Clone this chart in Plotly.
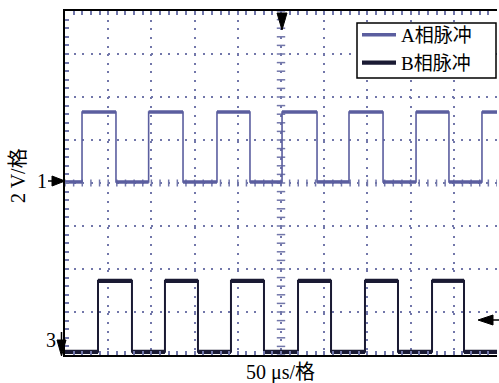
import numpy as np
import plotly.graph_objects as go

# ---- data (time in µs, voltage in V) ----
a_edges_us = [19.7, 59.0, 96.8, 136.6, 175.9, 214.1, 251.2, 291.7, 328.7, 368.1, 406.3, 444.4, 482.6]
b_edges_us = [38.2, 77.5, 115.7, 153.9, 192.1, 230.3, 269.7, 307.9, 347.2, 385.4, 424.8, 461.8]
a_levels_v = [0.05, 3.3]   # low, high
b_levels_v = [0.05, 3.35]  # low, high
b_offset_v = -7.9          # channel 3 ground position on screen
t_end_us = 500.0
series_names = ["A相脉冲", "B相脉冲"]
x_title = "50 μs/格"
y_title = "2 V/格"

COL_A = "#5b5e9f"
COL_B = "#1a1a33"
COL_GRID = "#7277aa"
FONT = "Liberation Serif, Times New Roman, Noto Sans CJK SC"

W, H = 499, 383
L, R, T, B = 65, 2, 11, 28


def px(x):
    return (x - L) / (W - L - R)


def py(y):
    return (H - B - y) / (H - T - B)


def square(edges, levels, offset):
    xs = [0.0] + list(edges) + [t_end_us]
    ys = []
    state = 0
    for _ in range(len(edges) + 1):
        ys.append(levels[state] + offset)
        state = 1 - state
    ys.append(ys[-1])
    return xs, ys


def levels_only(xs, ys):
    # horizontal segments of the step trace, separated by gaps
    sx, sy = [], []
    for i in range(len(xs) - 1):
        sx += [xs[i], xs[i + 1], None]
        sy += [ys[i], ys[i], None]
    return sx, sy


fig = go.Figure()

# centre-line graticule ticks
cx = np.arange(0, 500.01, 10)
fig.add_trace(go.Scatter(x=cx, y=np.zeros_like(cx), mode="markers",
                         marker=dict(symbol="line-ns", size=5, line=dict(width=1.5, color=COL_GRID)),
                         showlegend=False, hoverinfo="skip"))
cy = np.arange(-8, 8.01, 0.4)
fig.add_trace(go.Scatter(x=np.full_like(cy, 250.0), y=cy, mode="markers",
                         marker=dict(symbol="line-ew", size=6, line=dict(width=1.5, color=COL_GRID)),
                         showlegend=False, hoverinfo="skip"))

xa, ya = square(a_edges_us, a_levels_v, 0.0)
xb, yb = square(b_edges_us, b_levels_v, b_offset_v)
sxa, sya = levels_only(xa, ya)
sxb, syb = levels_only(xb, yb)

fig.add_trace(go.Scatter(x=xa, y=ya, mode="lines", line=dict(color=COL_A, width=1.6, shape="hv"),
                         showlegend=False, hoverinfo="skip"))
fig.add_trace(go.Scatter(x=sxa, y=sya, mode="lines", line=dict(color=COL_A, width=3.5),
                         name=series_names[0], hoverinfo="skip", connectgaps=False))
fig.add_trace(go.Scatter(x=xb, y=yb, mode="lines", line=dict(color=COL_B, width=2, shape="hv"),
                         showlegend=False, hoverinfo="skip"))
fig.add_trace(go.Scatter(x=sxb, y=syb, mode="lines", line=dict(color=COL_B, width=4.2),
                         name=series_names[1], hoverinfo="skip", connectgaps=False))

fig.update_xaxes(range=[0, 500], dtick=50, showgrid=True, gridcolor=COL_GRID, gridwidth=2,
                 griddash="2px,6.64px", zeroline=False, showticklabels=False,
                 showline=True, linecolor="black", linewidth=2, mirror="ticks",
                 ticks="inside", ticklen=4, tickwidth=1.5, tickcolor=COL_GRID,
                 minor=dict(dtick=10, ticks="inside", ticklen=4, tickwidth=1.5, tickcolor=COL_GRID, showgrid=False))
fig.update_yaxes(range=[-8, 8], dtick=2, showgrid=True, gridcolor=COL_GRID, gridwidth=2,
                 griddash="2px,6.6px", zeroline=False, showticklabels=False,
                 showline=True, linecolor="black", linewidth=2, mirror=False,
                 ticks="inside", ticklen=4, tickwidth=1.5, tickcolor=COL_GRID,
                 minor=dict(dtick=0.4, ticks="inside", ticklen=4, tickwidth=1.5, tickcolor=COL_GRID, showgrid=False))

shapes = []
# legend frame
shapes.append(dict(type="rect", xref="paper", yref="paper", layer="above",
                   x0=px(357), x1=px(496), y0=py(78), y1=py(23),
                   fillcolor="white", line=dict(color="black", width=1.5)))
# channel 1 marker (left, pointing right)
shapes.append(dict(type="line", xref="paper", yref="paper", x0=px(48), x1=px(55), y0=py(181), y1=py(181),
                   line=dict(color="black", width=1.5)))
shapes.append(dict(type="path", xref="paper", yref="paper",
                   path=f"M {px(52)} {py(176)} L {px(65)} {py(181)} L {px(52)} {py(186)} Z",
                   fillcolor="black", line=dict(color="black", width=1)))
# channel 3 marker (bottom-left, pointing down)
shapes.append(dict(type="line", xref="paper", yref="paper", x0=px(61.5), x1=px(61.5), y0=py(332), y1=py(342),
                   line=dict(color="black", width=1.5)))
shapes.append(dict(type="path", xref="paper", yref="paper",
                   path=f"M {px(57)} {py(340)} L {px(61.5)} {py(356)} L {px(66)} {py(340)} Z",
                   fillcolor="black", line=dict(color="black", width=1)))
# trigger position marker (top, pointing down)
shapes.append(dict(type="path", xref="paper", yref="paper",
                   path=f"M {px(277)} {py(13)} L {px(282)} {py(30)} L {px(287)} {py(13)} Z",
                   fillcolor="black", line=dict(color="black", width=1)))
# trigger level marker (right, pointing left)
shapes.append(dict(type="path", xref="paper", yref="paper",
                   path=f"M {px(493)} {py(315)} L {px(478)} {py(320)} L {px(493)} {py(325)} Z",
                   fillcolor="black", line=dict(color="black", width=1)))
shapes.append(dict(type="line", xref="paper", yref="paper", x0=px(492), x1=px(499), y0=py(320), y1=py(320),
                   line=dict(color="black", width=1.5)))

annotations = [
    dict(text="1", xref="paper", yref="paper", x=px(42), y=py(181), showarrow=False,
         font=dict(family=FONT, size=20, color="black"), xanchor="center", yanchor="middle"),
    dict(text="3", xref="paper", yref="paper", x=px(51), y=py(340), showarrow=False,
         font=dict(family=FONT, size=20, color="black"), xanchor="center", yanchor="middle"),
    dict(text=x_title, xref="paper", yref="paper", x=px(280), y=py(372), showarrow=False,
         font=dict(family=FONT, size=20, color="black"), xanchor="center", yanchor="middle"),
    dict(text=y_title, xref="paper", yref="paper", x=px(18), y=py(176), showarrow=False, textangle=-90,
         font=dict(family=FONT, size=20, color="black"), xanchor="center", yanchor="middle"),
]

fig.update_layout(
    width=W, height=H, margin=dict(l=L, r=R, t=T, b=B),
    paper_bgcolor="white", plot_bgcolor="white",
    shapes=shapes, annotations=annotations,
    legend=dict(x=px(357), y=py(16), xanchor="left", yanchor="top",
                bgcolor="rgba(0,0,0,0)", borderwidth=0,
                font=dict(family=FONT, size=19, color="black"),
                itemwidth=34, tracegroupgap=0),
    showlegend=True,
)

fig.write_html("out.html")
